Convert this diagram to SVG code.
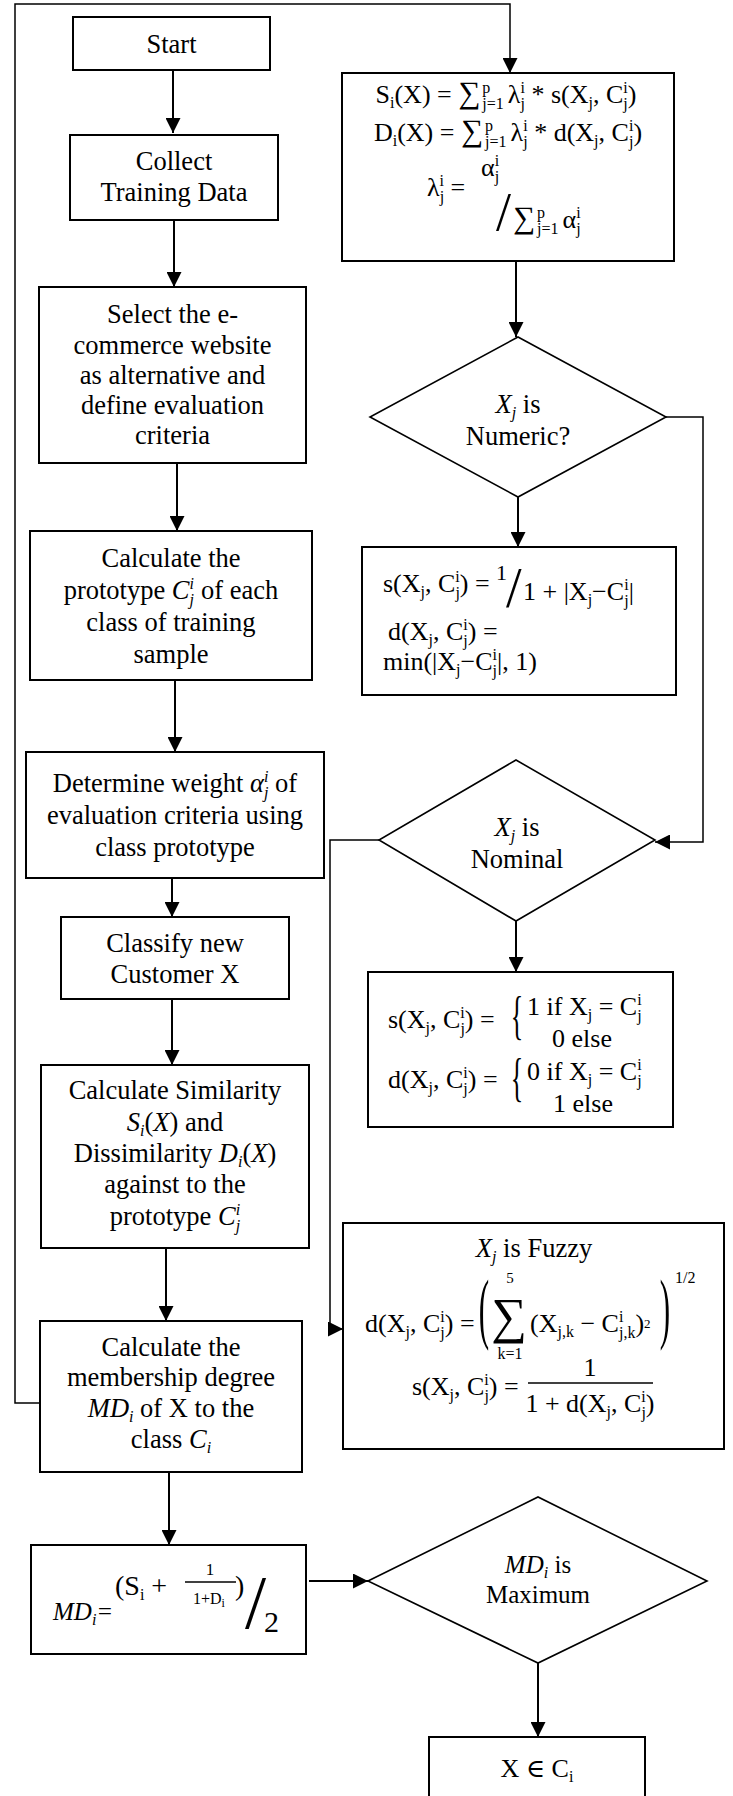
<svg xmlns="http://www.w3.org/2000/svg" width="733" height="1796" viewBox="0 0 733 1796">
<style>
  .box{fill:#fff;stroke:#000;stroke-width:2}
  .dia{fill:#fff;stroke:#000;stroke-width:1.6}
  .t{font-family:"Liberation Serif","Times New Roman","DejaVu Serif",serif;font-size:26.5px;fill:#000}
  .m{font-family:"Liberation Serif","Times New Roman","DejaVu Serif",serif;font-size:26px;fill:#000}
  .c{text-anchor:middle}
  .it{font-style:italic}
  .s{font-size:16px}
  .sg{font-size:31px}
  .w{fill:none;stroke:#000;stroke-width:2}
  .thin{fill:none;stroke:#000;stroke-width:1.5}
  .bar{stroke:#000;stroke-width:1.6}
</style>
<defs>
  <marker id="arrow" markerUnits="userSpaceOnUse" markerWidth="15" markerHeight="15" refX="15" refY="7.5" orient="auto" viewBox="0 0 15 15">
    <path d="M0,0 L15,7.5 L0,15 z" fill="#000"/>
  </marker>
</defs>
<rect width="733" height="1796" fill="#fff"/>

<!-- connectors -->
<g id="connectors">
  <path class="w" d="M173,70 V133" marker-end="url(#arrow)"/>
  <path class="w" d="M174,220 V287" marker-end="url(#arrow)"/>
  <path class="w" d="M177,463 V531" marker-end="url(#arrow)"/>
  <path class="w" d="M175,680 V752" marker-end="url(#arrow)"/>
  <path class="w" d="M172,878 V917" marker-end="url(#arrow)"/>
  <path class="w" d="M172,999 V1065" marker-end="url(#arrow)"/>
  <path class="w" d="M166,1248 V1321" marker-end="url(#arrow)"/>
  <path class="w" d="M169,1472 V1545" marker-end="url(#arrow)"/>
  <path class="w" d="M309,1581 H368" marker-end="url(#arrow)"/>
  <path class="w" d="M538,1663 V1737" marker-end="url(#arrow)"/>
  <path class="thin" d="M40,1403 H15 V4 H510 V73" marker-end="url(#arrow)"/>
  <path class="w" d="M516,261 V337" marker-end="url(#arrow)"/>
  <path class="w" d="M518,497 V547" marker-end="url(#arrow)"/>
  <path class="thin" d="M666,417 H703 V842 H655" marker-end="url(#arrow)"/>
  <path class="w" d="M516,921 V972" marker-end="url(#arrow)"/>
  <path class="thin" d="M379,840 H330 V1329 H343" marker-end="url(#arrow)"/>
</g>

<!-- left column -->
<g id="start">
  <rect class="box" x="73" y="17" width="197" height="53"/>
  <text class="t c" x="171.5" y="53">Start</text>
</g>

<g id="collect">
  <rect class="box" x="70" y="135" width="208" height="85"/>
  <text class="t c" x="174" y="170">Collect</text>
  <text class="t c" x="174" y="201">Training Data</text>
</g>

<g id="select">
  <rect class="box" x="39" y="287" width="267" height="176"/>
  <text class="t c" x="172.5" y="323">Select the e-</text>
  <text class="t c" x="172.5" y="353.5">commerce website</text>
  <text class="t c" x="172.5" y="384">as alternative and</text>
  <text class="t c" x="172.5" y="414">define evaluation</text>
  <text class="t c" x="172.5" y="444">criteria</text>
</g>

<g id="prototype">
  <rect class="box" x="30" y="531" width="282" height="149"/>
  <text class="t c" x="171" y="567">Calculate the</text>
  <text class="t c" x="171" y="599">prototype <tspan class="it">C</tspan><tspan class="s it" dy="-10">i</tspan><tspan class="s it" dx="-4.4" dy="16">j</tspan><tspan dx="7" dy="-6">of each</tspan></text>
  <text class="t c" x="171" y="631">class of training</text>
  <text class="t c" x="171" y="663">sample</text>
</g>

<g id="weight">
  <rect class="box" x="26" y="752" width="298" height="126"/>
  <text class="t c" x="175" y="792">Determine weight <tspan class="it">α</tspan><tspan class="s it" dy="-10">i</tspan><tspan class="s it" dx="-4.4" dy="16">j</tspan><tspan dy="-6"> of</tspan></text>
  <text class="t c" x="175" y="824">evaluation criteria using</text>
  <text class="t c" x="175" y="856">class prototype</text>
</g>

<g id="classify">
  <rect class="box" x="61" y="917" width="228" height="82"/>
  <text class="t c" x="175" y="952">Classify new</text>
  <text class="t c" x="175" y="983">Customer X</text>
</g>

<g id="similarity">
  <rect class="box" x="41" y="1065" width="268" height="183"/>
  <text class="t c" x="175" y="1099">Calculate Similarity</text>
  <text class="t c" x="175" y="1131"><tspan class="it">S</tspan><tspan class="s it" dy="5">i</tspan><tspan dy="-5">(</tspan><tspan class="it">X</tspan><tspan>) and</tspan></text>
  <text class="t c" x="175" y="1162">Dissimilarity <tspan class="it">D</tspan><tspan class="s it" dy="5">i</tspan><tspan dy="-5">(</tspan><tspan class="it">X</tspan><tspan>)</tspan></text>
  <text class="t c" x="175" y="1193">against to the</text>
  <text class="t c" x="175" y="1225">prototype <tspan class="it">C</tspan><tspan class="s it" dy="-10">i</tspan><tspan class="s it" dx="-4.4" dy="16">j</tspan></text>
</g>

<g id="membership">
  <rect class="box" x="40" y="1321" width="262" height="151"/>
  <text class="t c" x="171" y="1356">Calculate the</text>
  <text class="t c" x="171" y="1386">membership degree</text>
  <text class="t c" x="171" y="1417"><tspan class="it">MD</tspan><tspan class="s it" dy="5">i</tspan><tspan dy="-5"> of X to the</tspan></text>
  <text class="t c" x="171" y="1448">class <tspan class="it">C</tspan><tspan class="s it" dy="5">i</tspan></text>
</g>

<g id="md-formula">
  <rect class="box" x="31" y="1545" width="275" height="109"/>
  <text class="m it" x="53" y="1620" style="font-size:25px">MD<tspan class="s" dy="5">i</tspan><tspan dy="-5">=</tspan></text>
  <text class="m" x="115" y="1595" style="font-size:28px">(S<tspan class="s" dy="5">i</tspan><tspan dy="-5"> + </tspan></text>
  <text class="m c" x="210" y="1575" style="font-size:17px">1</text>
  <line class="bar" x1="185" y1="1582" x2="236" y2="1582"/>
  <text class="m c" x="209" y="1604" style="font-size:16px">1+D<tspan style="font-size:12px" dy="3">i</tspan></text>
  <text class="m" x="235" y="1595" style="font-size:28px">)</text>
  <text class="m" x="245" y="1628" style="font-size:76px">/</text>
  <text class="m" x="264" y="1632" style="font-size:30px">2</text>
</g>

<g id="maximum">
  <polygon class="dia" points="368,1581 538,1497 707,1581 538,1663"/>
  <text class="t c" x="538" y="1573" style="font-size:25px"><tspan class="it">MD</tspan><tspan class="s it" dy="5">i</tspan><tspan dy="-5"> is</tspan></text>
  <text class="t c" x="538" y="1603" style="font-size:25px">Maximum</text>
</g>

<g id="result">
  <rect class="box" x="429" y="1737" width="216" height="80"/>
  <text class="m c" x="537" y="1777">X ∈ C<tspan class="s" dy="5">i</tspan></text>
</g>

<!-- right column -->
<g id="aggregate">
  <rect class="box" x="342" y="73" width="332" height="188"/>
  <text class="m c" x="506" y="103">S<tspan class="s" dy="5">i</tspan><tspan dy="-5">(X) = </tspan><tspan class="sg">∑</tspan><tspan class="s" dx="2" dy="-10">p</tspan><tspan class="s" dx="-8" dy="16">j=1</tspan><tspan dx="4" dy="-6">λ</tspan><tspan class="s" dy="-10">i</tspan><tspan class="s" dx="-4.4" dy="16">j</tspan><tspan dy="-6"> * s(X</tspan><tspan class="s" dy="5">j</tspan><tspan dy="-5">, C</tspan><tspan class="s" dy="-10">i</tspan><tspan class="s" dx="-4.4" dy="16">j</tspan><tspan dy="-6">)</tspan></text>
  <text class="m c" x="508" y="141">D<tspan class="s" dy="5">i</tspan><tspan dy="-5">(X) = </tspan><tspan class="sg">∑</tspan><tspan class="s" dx="2" dy="-10">p</tspan><tspan class="s" dx="-8" dy="16">j=1</tspan><tspan dx="4" dy="-6">λ</tspan><tspan class="s" dy="-10">i</tspan><tspan class="s" dx="-4.4" dy="16">j</tspan><tspan dy="-6"> * d(X</tspan><tspan class="s" dy="5">j</tspan><tspan dy="-5">, C</tspan><tspan class="s" dy="-10">i</tspan><tspan class="s" dx="-4.4" dy="16">j</tspan><tspan dy="-6">)</tspan></text>
  <text class="m" x="427" y="196">λ<tspan class="s" dy="-10">i</tspan><tspan class="s" dx="-4.4" dy="16">j</tspan><tspan dy="-6"> =</tspan></text>
  <text class="m" x="481" y="176">α<tspan class="s" dy="-10">i</tspan><tspan class="s" dx="-4.4" dy="16">j</tspan></text>
  <text class="m" x="496" y="230" style="font-size:54px">/</text>
  <text class="m" x="513" y="228"><tspan class="sg">∑</tspan><tspan class="s" dx="2" dy="-10">p</tspan><tspan class="s" dx="-8" dy="16">j=1</tspan><tspan dx="4" dy="-6">α</tspan><tspan class="s" dy="-10">i</tspan><tspan class="s" dx="-4.4" dy="16">j</tspan></text>
</g>

<g id="numeric">
  <polygon class="dia" points="518,337 666,417 518,497 370,417"/>
  <text class="t c" x="518" y="413"><tspan class="it">X</tspan><tspan class="s it" dy="5">j</tspan><tspan dy="-5"> is</tspan></text>
  <text class="t c" x="518" y="445">Numeric?</text>
</g>

<g id="numeric-measure">
  <rect class="box" x="362" y="547" width="314" height="148"/>
  <text class="m" x="383" y="592">s(X<tspan class="s" dy="5">j</tspan><tspan dy="-5">, C</tspan><tspan class="s" dy="-10">i</tspan><tspan class="s" dx="-4.4" dy="16">j</tspan><tspan dy="-6">) =</tspan></text>
  <text class="m" x="496" y="580" style="font-size:22px">1</text>
  <text class="m" x="506" y="607" style="font-size:56px">/</text>
  <text class="m" x="523" y="600">1 + |X<tspan class="s" dy="5">j</tspan><tspan dy="-5">−C</tspan><tspan class="s" dy="-10">i</tspan><tspan class="s" dx="-4.4" dy="16">j</tspan><tspan dy="-6">|</tspan></text>
  <text class="m" x="388" y="640">d(X<tspan class="s" dy="5">j</tspan><tspan dy="-5">, C</tspan><tspan class="s" dy="-10">i</tspan><tspan class="s" dx="-4.4" dy="16">j</tspan><tspan dy="-6">) =</tspan></text>
  <text class="m" x="383" y="670">min(|X<tspan class="s" dy="5">j</tspan><tspan dy="-5">−C</tspan><tspan class="s" dy="-10">i</tspan><tspan class="s" dx="-4.4" dy="16">j</tspan><tspan dy="-6">|, 1)</tspan></text>
</g>

<g id="nominal">
  <polygon class="dia" points="516,760 655,840 516,921 379,840"/>
  <text class="t c" x="517" y="836"><tspan class="it">X</tspan><tspan class="s it" dy="5">j</tspan><tspan dy="-5"> is</tspan></text>
  <text class="t c" x="517" y="868">Nominal</text>
</g>

<g id="nominal-measure">
  <rect class="box" x="368" y="972" width="305" height="155"/>
  <text class="m" x="388" y="1028">s(X<tspan class="s" dy="5">j</tspan><tspan dy="-5">, C</tspan><tspan class="s" dy="-10">i</tspan><tspan class="s" dx="-4.4" dy="16">j</tspan><tspan dy="-6">) =</tspan></text>
  <text class="m" transform="translate(517,1020) scale(1,2)" x="0" y="6.5" text-anchor="middle">{</text>
  <text class="m" x="527" y="1015">1 if X<tspan class="s" dy="5">j</tspan><tspan dy="-5"> = C</tspan><tspan class="s" dy="-10">i</tspan><tspan class="s" dx="-4.4" dy="16">j</tspan></text>
  <text class="m" x="552" y="1047">0 else</text>
  <text class="m" x="388" y="1088">d(X<tspan class="s" dy="5">j</tspan><tspan dy="-5">, C</tspan><tspan class="s" dy="-10">i</tspan><tspan class="s" dx="-4.4" dy="16">j</tspan><tspan dy="-6">) =</tspan></text>
  <text class="m" transform="translate(517,1082) scale(1,2)" x="0" y="6.5" text-anchor="middle">{</text>
  <text class="m" x="527" y="1080">0 if X<tspan class="s" dy="5">j</tspan><tspan dy="-5"> = C</tspan><tspan class="s" dy="-10">i</tspan><tspan class="s" dx="-4.4" dy="16">j</tspan></text>
  <text class="m" x="553" y="1112">1 else</text>
</g>

<g id="fuzzy-measure">
  <rect class="box" x="343" y="1223" width="381" height="226"/>
  <text class="t c" x="534" y="1257"><tspan class="it">X</tspan><tspan class="s it" dy="5">j</tspan><tspan dy="-5"> is Fuzzy</tspan></text>
  <text class="m" x="365" y="1332">d(X<tspan class="s" dy="5">j</tspan><tspan dy="-5">, C</tspan><tspan class="s" dy="-10">i</tspan><tspan class="s" dx="-4.4" dy="16">j</tspan><tspan dy="-6">) =</tspan></text>
  <text class="m" transform="translate(484,1314) scale(1.2,3)" x="0" y="6.6" text-anchor="middle">(</text>
  <text class="m" x="509" y="1333" text-anchor="middle" style="font-size:50px">∑</text>
  <text class="m c" x="510" y="1283" style="font-size:15px">5</text>
  <text class="m c s" x="510" y="1359">k=1</text>
  <text class="m" x="530" y="1332">(X<tspan class="s" dy="5">j,k</tspan><tspan dy="-5"> − C</tspan><tspan class="s" dy="-10">i</tspan><tspan class="s" dx="-4.4" dy="16">j,k</tspan><tspan dy="-6">)</tspan><tspan style="font-size:13px" dy="-4">2</tspan></text>
  <text class="m" transform="translate(665,1314) scale(1.2,3)" x="0" y="6.6" text-anchor="middle">)</text>
  <text class="m s" x="675" y="1283">1/2</text>
  <text class="m" x="412" y="1395">s(X<tspan class="s" dy="5">j</tspan><tspan dy="-5">, C</tspan><tspan class="s" dy="-10">i</tspan><tspan class="s" dx="-4.4" dy="16">j</tspan><tspan dy="-6">) =</tspan></text>
  <text class="m c" x="590" y="1376">1</text>
  <line class="bar" x1="528" y1="1383" x2="653" y2="1383"/>
  <text class="m c" x="590" y="1412">1 + d(X<tspan class="s" dy="5">j</tspan><tspan dy="-5">, C</tspan><tspan class="s" dy="-10">i</tspan><tspan class="s" dx="-4.4" dy="16">j</tspan><tspan dy="-6">)</tspan></text>
</g>
</svg>
